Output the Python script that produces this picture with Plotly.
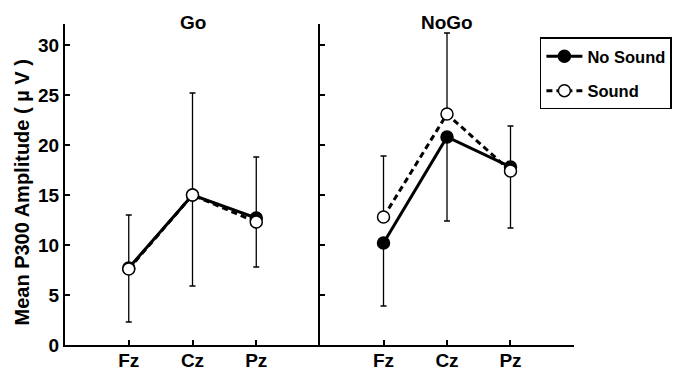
import plotly.graph_objects as go

electrodes = ["Fz", "Cz", "Pz"]
go_nosound = [7.7, 15.0, 12.7]
go_sound = [7.6, 15.0, 12.3]
go_nosound_err_down = [5.4, 9.1, 4.9]
go_sound_err_up = [5.4, 10.2, 6.5]
nogo_nosound = [10.2, 20.8, 17.8]
nogo_sound = [12.8, 23.1, 17.4]
nogo_nosound_err_down = [6.3, 8.4, 6.1]
nogo_sound_err_up = [6.1, 8.1, 4.5]
yticks = [0, 5, 10, 15, 20, 25, 30]

FONT = "Liberation Sans, Arial, Helvetica, sans-serif"
xpos = [0, 1, 2]

fig = go.Figure()

def add_pair(xa, ya, ns, s, ns_dn, s_up, show):
    fig.add_trace(go.Scatter(
        x=xpos, y=ns, mode="lines+markers", name="No Sound",
        line=dict(color="black", width=3),
        marker=dict(symbol="circle", size=12, color="black", line=dict(color="black", width=1.5)),
        error_y=dict(type="data", symmetric=False, array=[0, 0, 0], arrayminus=ns_dn,
                     color="black", thickness=1.3, width=3),
        xaxis=xa, yaxis=ya, showlegend=show, legendrank=1, legendgroup="ns"))
    fig.add_trace(go.Scatter(
        x=xpos, y=s, mode="lines+markers", name="Sound",
        line=dict(color="black", width=3, dash="6px,4px"),
        marker=dict(symbol="circle", size=12, color="white", line=dict(color="black", width=1.5)),
        error_y=dict(type="data", symmetric=False, array=s_up, arrayminus=[0, 0, 0],
                     color="black", thickness=1.3, width=3),
        xaxis=xa, yaxis=ya, showlegend=show, legendrank=2, legendgroup="s"))

add_pair("x", "y", go_nosound, go_sound, go_nosound_err_down, go_sound_err_up, True)
add_pair("x2", "y2", nogo_nosound, nogo_sound, nogo_nosound_err_down, nogo_sound_err_up, False)

tickfont = dict(family=FONT, size=19, color="black", weight="bold")
xcommon = dict(range=[-1, 3], tickmode="array", tickvals=xpos, ticktext=electrodes,
               ticks="inside", ticklen=5, tickwidth=1.5, tickcolor="black",
               showline=True, linecolor="black", linewidth=1.5, showgrid=False,
               zeroline=False, tickfont=tickfont, fixedrange=True, ticklabelstandoff=-3)
ycommon = dict(range=[0, 32.1], tickmode="array", tickvals=yticks,
               ticks="inside", ticklen=5, tickwidth=1.5, tickcolor="black",
               showline=True, linecolor="black", linewidth=2, showgrid=False,
               zeroline=False, tickfont=tickfont, fixedrange=True)

fig.update_layout(
    width=673, height=373,
    margin=dict(l=65, r=99, t=24, b=28, autoexpand=False),
    paper_bgcolor="white", plot_bgcolor="white",
    xaxis=dict(domain=[0, 0.501], anchor="y", **xcommon),
    xaxis2=dict(domain=[0.501, 1], anchor="y2", **xcommon),
    yaxis=dict(anchor="x", ticklabelstandoff=0, **ycommon),
    yaxis2=dict(anchor="x2", showticklabels=False, **ycommon),
    legend=dict(x=0.933, y=0.958, xanchor="left", yanchor="top",
                bordercolor="black", borderwidth=1.5, bgcolor="white",
                font=dict(family=FONT, size=16.5, color="black", weight="bold"),
                tracegroupgap=10, itemwidth=36),
    annotations=[
        dict(text="Go", x=1, y=1.005, xref="x", yref="paper", showarrow=False,
             yanchor="middle", font=dict(family=FONT, size=19, color="black", weight="bold")),
        dict(text="NoGo", x=1, y=1.005, xref="x2", yref="paper", showarrow=False,
             yanchor="middle", font=dict(family=FONT, size=19, color="black", weight="bold")),
        dict(text="Mean P300 Amplitude ( \u00b5 V )", x=-0.0864, y=15.25, xref="paper", yref="y",
             showarrow=False, textangle=-90, xanchor="center", yanchor="middle",
             font=dict(family=FONT, size=20, color="black", weight="bold")),
    ],
)

fig.write_html("out.html", config={"displayModeBar": False},
               post_script="document.body.style.margin='0px';")
